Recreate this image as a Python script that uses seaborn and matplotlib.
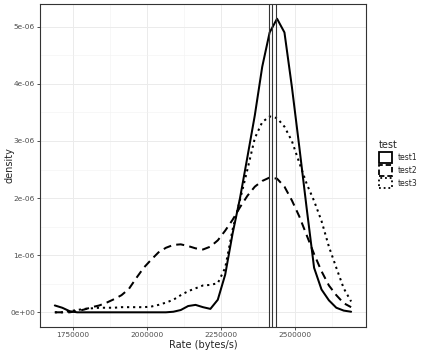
import numpy as np
import pandas as pd
import matplotlib
matplotlib.use('Agg')
import matplotlib.pyplot as plt
from matplotlib.patches import Rectangle
from matplotlib.ticker import MultipleLocator, FixedLocator
import seaborn as sns

sns.set_style('white')
plt.rcParams['font.family'] = ['DejaVu Sans']

# sampling grid for the density curves (bytes/s)
rate = [1690000, 1715000, 1740000, 1765000, 1790000, 1815000, 1840000,
        1865000, 1890000, 1915000, 1940000, 1965000, 1990000, 2015000,
        2040000, 2065000, 2090000, 2115000, 2140000, 2165000, 2190000,
        2215000, 2240000, 2265000, 2290000, 2315000, 2340000, 2365000,
        2390000, 2415000, 2440000, 2465000, 2490000, 2515000, 2540000,
        2565000, 2590000, 2615000, 2640000, 2665000, 2690000]

# densities, in units of 1e-6
test1 = [0.12, 0.08, 0.02, 0.0, 0.0, 0.0, 0.0, 0.0, 0.0, 0.0, 0.0, 0.0,
         0.0, 0.0, 0.0, 0.0, 0.01, 0.04, 0.11, 0.13, 0.09, 0.06, 0.22,
         0.66, 1.38, 2.0, 2.72, 3.45, 4.3, 4.9, 5.14, 4.9, 3.95, 2.9,
         1.82, 0.78, 0.4, 0.21, 0.08, 0.03, 0.01]
test2 = [0.0, 0.0, 0.0, 0.02, 0.05, 0.09, 0.12, 0.17, 0.23, 0.3, 0.41,
         0.6, 0.78, 0.92, 1.05, 1.13, 1.18, 1.19, 1.16, 1.12, 1.10, 1.15,
         1.26, 1.43, 1.62, 1.84, 2.04, 2.2, 2.3, 2.36, 2.34, 2.2, 1.96,
         1.68, 1.35, 1.02, 0.72, 0.47, 0.3, 0.16, 0.09]
test3 = [0.0, 0.0, 0.02, 0.04, 0.06, 0.07, 0.08, 0.08, 0.08, 0.09, 0.09,
         0.09, 0.09, 0.1, 0.13, 0.17, 0.22, 0.3, 0.37, 0.42, 0.47, 0.48,
         0.51, 0.78, 1.45, 1.97, 2.5, 3.05, 3.33, 3.43, 3.4, 3.25, 3.0,
         2.62, 2.25, 1.95, 1.6, 1.15, 0.78, 0.42, 0.19]

tests = ['test1', 'test2', 'test3']
vlines = [2412000, 2423000, 2435000]

x_ticks = [1750000, 2000000, 2250000, 2500000]
y_ticks = [0, 1e-6, 2e-6, 3e-6, 4e-6, 5e-6]
y_labels = ['0e+00', '1e-06', '2e-06', '3e-06', '4e-06', '5e-06']

df = pd.concat([
    pd.DataFrame({'rate': rate, 'density': np.array(v) * 1e-6, 'test': t})
    for t, v in zip(tests, [test1, test2, test3])
])

fig = plt.figure(figsize=(4.23, 3.54), dpi=100)
ax = fig.add_axes([0.0946, 0.0763, 0.7705, 0.9127])

dash_map = {'test1': '', 'test2': (4, 2.6), 'test3': (1.1, 1.9)}
sns.lineplot(data=df, x='rate', y='density', style='test', dashes=dash_map,
             color='black', lw=1.45, estimator=None, sort=False,
             legend=False, ax=ax)

for v in vlines:
    ax.axvline(v, color='#333333', lw=0.8)

ax.set_xlim(1640000, 2740000)
ax.set_ylim(-0.257e-6, 5.4e-6)

ax.xaxis.set_major_locator(FixedLocator(x_ticks))
ax.xaxis.set_minor_locator(MultipleLocator(125000))
ax.set_xticklabels([str(t) for t in x_ticks])
ax.yaxis.set_major_locator(FixedLocator(y_ticks))
ax.yaxis.set_minor_locator(MultipleLocator(0.5e-6))
ax.set_yticklabels(y_labels)

ax.grid(True, which='major', color='#EBEBEB', lw=0.7, zorder=0)
ax.grid(True, which='minor', color='#F2F2F2', lw=0.4, zorder=0)
ax.set_axisbelow(True)

for s in ax.spines.values():
    s.set_color('#333333')
    s.set_linewidth(0.8)

ax.tick_params(axis='both', which='major', length=2.5, width=0.6,
               color='#333333', labelsize=5.3, labelcolor='#4D4D4D',
               pad=1.2, bottom=True, left=True)
ax.tick_params(axis='both', which='minor', length=0)

ax.set_xlabel('Rate (bytes/s)', fontsize=7.0, labelpad=1)
ax.set_ylabel('density', fontsize=7.0, va='center')
ax.yaxis.set_label_coords(-0.093, 0.5)

handles = [Rectangle((0, 0), 1, 1, facecolor='none', edgecolor='black',
                     lw=1.3, linestyle=ls)
           for ls in ['-', (0, (3, 1.6)), (0, (1, 1.6))]]
leg = fig.legend(handles, tests, title='test', loc='upper left',
                 bbox_to_anchor=(0.896, 0.605), frameon=False,
                 fontsize=5.5, title_fontsize=7.0, handlelength=1.75,
                 handleheight=1.75, labelspacing=0.3, handletextpad=0.7,
                 borderaxespad=0, borderpad=0, alignment='left')

fig.savefig('out.png', dpi=100)
